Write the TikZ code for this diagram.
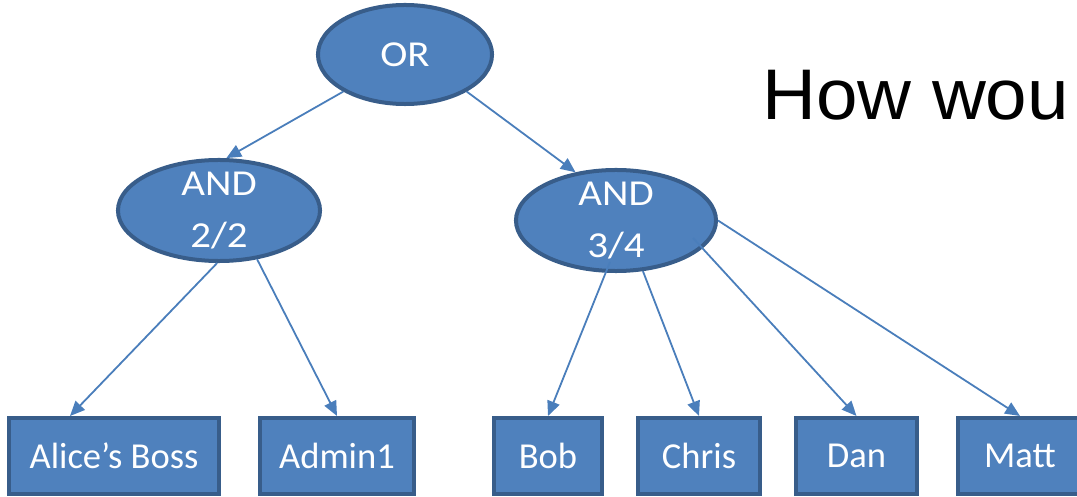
\documentclass[tikz,border=0pt]{standalone}
\usepackage{fontspec}
\setmainfont{Carlito}
\newfontfamily\gatefont[FakeStretch=1.12]{Carlito}
\newfontfamily\questionfont[FakeStretch=1.04]{Liberation Sans}
\usepackage{tikz}
\usetikzlibrary{shapes, arrows.meta, calc}
\definecolor{shapefill}{HTML}{4F81BD}
\definecolor{shapeedge}{HTML}{385D8A}
\definecolor{linkcolor}{HTML}{4A7EBB}
\tikzset{
  gatenode/.style={draw=shapeedge, fill=shapefill, ellipse, line width=0.1cm, inner xsep=0pt, inner ysep=-0.6cm, minimum width=5.05cm, minimum height=2.525cm, align=center, text=white, font=\gatefont\fontsize{26}{36.5}\selectfont},
  keynode/.style={draw=shapeedge, fill=shapefill, rectangle, line width=0.1cm, minimum height=1.9cm, align=center, text=white, font=\fontsize{26}{30}\selectfont},
  arrow/.style={-{Triangle[length=0.37cm, width=0.32cm]}, draw=linkcolor, line width=0.045cm}
}

\begin{document}
\begin{tikzpicture}[x=0.025cm, y=-0.025cm]

\useasboundingbox (0,0) rectangle (1077,497);
\clip (0,0) rectangle (1077,497);

% Nodes
\node[gatenode, minimum width=4.35cm, minimum height=2.475cm] (or) at (405,54.5) {OR};
\node[gatenode] (and2) at (219,210.5) {AND\\2/2};
\node[gatenode, minimum width=5cm] (and3) at (616,220.5) {AND\\3/4};

\node[keynode, minimum width=5.25cm] (boss) at (114,456) {Alice’s Boss};
\node[keynode, minimum width=3.85cm] (admin) at (337,456) {Admin1};
\node[keynode, minimum width=2.7cm] (bob) at (548,456) {Bob};
\node[keynode, minimum width=3.05cm] (chris) at (699,456) {Chris};
\node[keynode, minimum width=3.025cm] (dan) at (856.5,456) {Dan};
\node[keynode, minimum width=3.1cm] (matt) at (1020,456) {Matt};

\node[anchor=base west, inner sep=0pt, font=\questionfont\fontsize{51}{60}\selectfont] (question) at (762,120) {How wou};

% Connections
\draw[arrow] (or.211) -- (and2.82);
\draw[arrow] (or.329) -- (and3.130);
\draw[arrow] (and2.268) -- ($(boss.north)+(-44,0)$);
\draw[arrow] (and2.308) -- (admin.north);
\draw[arrow] ($(and3)+(-6,41.5)$) -- (bob.north);
\draw[arrow] (and3.298) -- (chris.north);
\draw[arrow] ($(and3)+(77,17.5)$) -- (dan.north);
\draw[arrow] (and3.east) -- (matt.north);

\end{tikzpicture}
\end{document}
